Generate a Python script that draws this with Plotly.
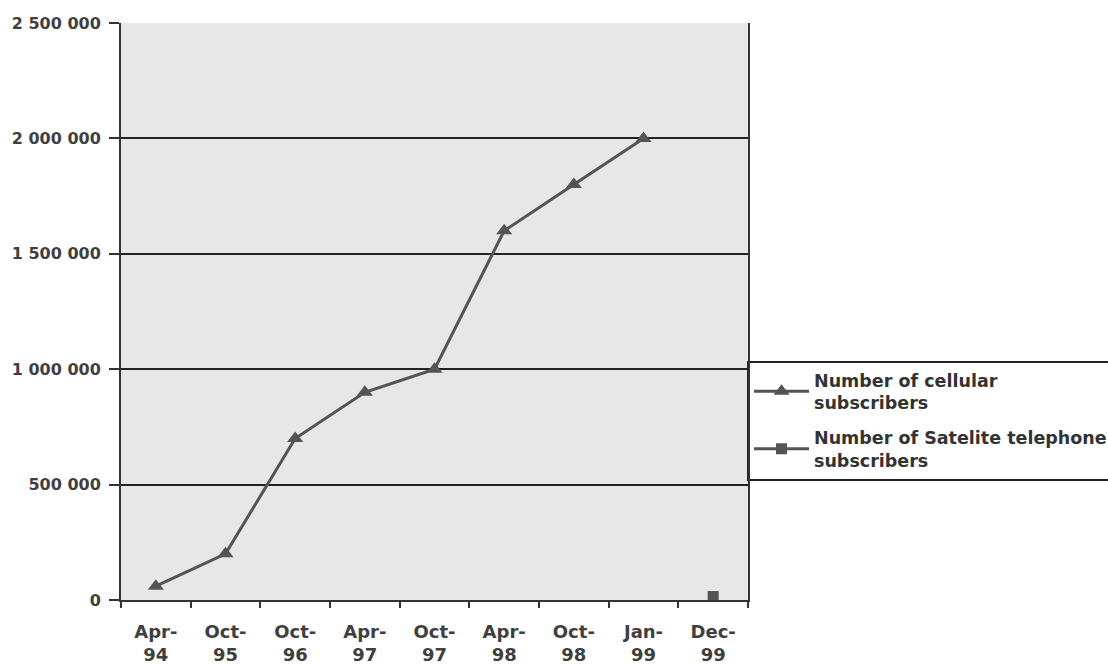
import plotly.graph_objects as go

# Period categories along the x axis
periods = ["Apr-94", "Oct-95", "Oct-96", "Apr-97", "Oct-97",
           "Apr-98", "Oct-98", "Jan-99", "Dec-99"]
period_labels = ["Apr-<br>94", "Oct-<br>95", "Oct-<br>96", "Apr-<br>97", "Oct-<br>97",
                 "Apr-<br>98", "Oct-<br>98", "Jan-<br>99", "Dec-<br>99"]

# Subscriber counts
cellular_periods = periods[:8]
cellular = [60000, 200000, 700000, 900000, 1000000, 1600000, 1800000, 2000000]
satellite_periods = ["Dec-99"]
satellite = [15000]

y_ticks = [0, 500000, 1000000, 1500000, 2000000, 2500000]
y_tick_labels = ["0", "500 000", "1 000 000", "1 500 000", "2 000 000", "2 500 000"]

W, H = 1108, 666
L, R, T, B = 121, 360, 23, 66
plot_w = W - L - R
plot_h = H - T - B

line_col = "#545454"
text_col = "#3f3f3f"
FAMILY = "DejaVu Sans, Liberation Sans, Arial, sans-serif"

fig = go.Figure()
fig.add_trace(go.Scatter(
    x=cellular_periods, y=cellular, mode="lines+markers",
    name="Number of cellular<br>subscribers", legendgroup="cell",
    line=dict(color=line_col, width=3),
    marker=dict(symbol="triangle-up", size=14, color=line_col),
))
fig.add_trace(go.Scatter(
    x=satellite_periods, y=satellite, mode="lines+markers",
    name="Number of Satelite telephone<br>subscribers", legendgroup="sat",
    line=dict(color=line_col, width=3),
    marker=dict(symbol="square", size=11, color=line_col),
))

# legend frame running from the plot's right edge off the page
def py(px):
    return (H - B - px) / plot_h

fig.add_shape(type="rect", xref="paper", yref="paper",
              x0=1.0, x1=(W + 10 - L) / plot_w, y0=py(480), y1=py(362),
              line=dict(color="#222222", width=2), fillcolor="white", layer="below")

fig.update_layout(
    width=W, height=H,
    margin=dict(l=L, r=R, t=T, b=B, autoexpand=False),
    paper_bgcolor="white",
    plot_bgcolor="#e7e7e7",
    font=dict(family=FAMILY, size=16, color=text_col, weight="bold"),
    showlegend=True,
    legend=dict(
        x=(749 - L) / plot_w, xanchor="left",
        y=py(362), yanchor="top",
        bgcolor="rgba(0,0,0,0)", borderwidth=0,
        font=dict(family=FAMILY, size=17.5, color="#333333", weight="bold"),
        itemwidth=55, traceorder="grouped", tracegroupgap=9,
    ),
    xaxis=dict(
        categoryorder="array", categoryarray=periods,
        tickmode="array", tickvals=periods, ticktext=period_labels,
        range=[-0.5, 8.5], tickson="boundaries", ticks="outside", ticklen=6,
        tickcolor="#333333", tickwidth=2, ticklabelstandoff=14,
        showline=True, linecolor="#333333", linewidth=2, mirror=False,
        showgrid=False, zeroline=False, automargin=False,
        tickfont=dict(family=FAMILY, size=18, color=text_col, weight="bold"),
    ),
    yaxis=dict(
        range=[0, 2500000], tickmode="array", tickvals=y_ticks, ticktext=y_tick_labels,
        ticks="outside", ticklen=10, tickcolor="#333333", tickwidth=2,
        ticklabelstandoff=5, automargin=False,
        showline=True, linecolor="#333333", linewidth=2, mirror=True,
        showgrid=True, gridcolor="#222222", gridwidth=2, zeroline=False,
        tickfont=dict(family=FAMILY, size=16, color=text_col, weight="bold"),
    ),
)

fig.write_html("out.html")
